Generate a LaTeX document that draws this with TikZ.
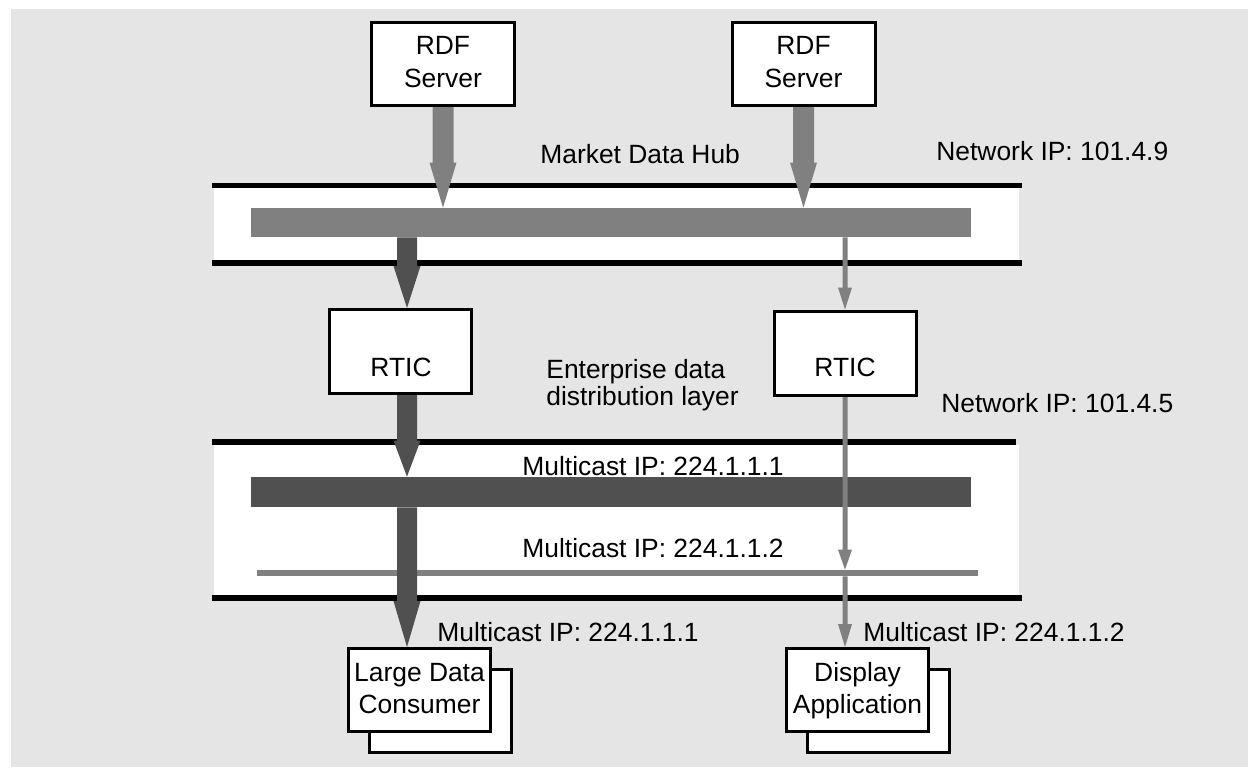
\documentclass[tikz,border=0pt]{standalone}
\usepackage{fontspec}
\setmainfont{Liberation Sans}
\usetikzlibrary{calc}

\definecolor{panelgray}{HTML}{E5E5E5}
\definecolor{flowgray}{HTML}{808080}
\definecolor{flowdark}{HTML}{505050}

\newcommand\lblfont{\fontsize{13.2pt}{15.8pt}\selectfont}

% Vertical block arrow: #1 fill colour, #2 start, #3 tip,
% #4 half shaft width, #5 half head width, #6 head length
\newcommand\vfatarrow[6]{%
  \fill[#1] ($(#2)+(-#4,0)$) -- ($(#3)+(-#4,-#6)$) -- ($(#3)+(-#5,-#6)$)
    -- (#3) -- ($(#3)+(#5,-#6)$) -- ($(#3)+(#4,-#6)$) -- ($(#2)+(#4,0)$) -- cycle;}

\begin{document}
\begin{tikzpicture}[x=0.5pt,y=-0.5pt,
  box/.style={draw=black, line width=1.5pt, fill=white, inner sep=0pt,
    minimum width=71.5pt, minimum height=41.5pt},
  txt/.style={font=\lblfont, inner sep=0pt, anchor=base},
  txtw/.style={txt, anchor=base west},
  busbar/.style={inner sep=0pt, draw=none},
  hubline/.style={draw=black, line width=2.75pt}]

% canvas
\useasboundingbox (0,0) rectangle (1248,767);
\fill[white] (0,0) rectangle (1248,767);
\fill[panelgray] (11,9) rectangle (1248,767);

% market data hub band
\fill[white] (214,188) rectangle (1019,261);
\draw[hubline] (212,185.5) -- (1022,185.5);
\draw[hubline] (212,263) -- (1022,263);
\node[busbar, fill=flowgray, minimum width=360pt, minimum height=14.5pt] (hubbar) at (611,222.5) {};

% enterprise distribution band
\fill[white] (214,445) rectangle (1019,595);
\draw[hubline] (212,442) -- (1016,442);
\draw[hubline] (212,598) -- (1022,598);
\node[busbar, fill=flowdark, minimum width=360pt, minimum height=15pt] (dkbar) at (611,492) {};
\node[busbar, fill=flowgray, minimum width=360.5pt, minimum height=3pt] (ltbar) at (617.5,573) {};

% boxes (placed first so arrows can refer to them)
\path node[box] (rdf1) at (443,64) {}
      node[box] (rdf2) at (803.5,64) {}
      node[box, minimum width=71pt, minimum height=42pt] (rtic1) at (400.5,351.5) {}
      node[box, minimum width=71pt, minimum height=42pt] (rtic2) at (845,353) {};

\coordinate (dkx) at (407,0);
\coordinate (thx) at (845,0);
\coordinate (ldcpos) at (419.5,690);
\coordinate (disppos) at (857.5,689.5);

% arrow end points
\coordinate (a1s) at (rdf1.south);
\coordinate (a1e) at (rdf1.south |- hubbar.north);
\coordinate (a2s) at (rdf2.south);
\coordinate (a2e) at (rdf2.south |- hubbar.north);
\coordinate (a3s) at (dkx |- hubbar.south);
\coordinate (a3e) at (dkx |- rtic1.north);
\coordinate (a4s) at (thx |- hubbar.south);
\coordinate (a4e) at (rtic2.north);
\coordinate (a5s) at (dkx |- rtic1.south);
\coordinate (a5e) at (dkx |- dkbar.north);
\coordinate (a6s) at (dkx |- dkbar.south);
\coordinate (a6e) at (407,647);
\coordinate (a7s) at (rtic2.south);
\coordinate (a7e) at (thx |- ltbar.north);
\coordinate (a8s) at (thx |- ltbar.south);
\coordinate (a8e) at (845,647);

% flows
\vfatarrow{flowgray}{a1s}{a1e}{10.5}{13.5}{45}
\vfatarrow{flowgray}{a2s}{a2e}{10.5}{13.5}{45}
\vfatarrow{flowdark}{a3s}{a3e}{10}{13.5}{42}
\vfatarrow{flowgray}{a4s}{a4e}{2.5}{7}{22}
\vfatarrow{flowdark}{a5s}{a5e}{10}{13.5}{36}
\vfatarrow{flowdark}{a6s}{a6e}{10}{13.5}{46}
\vfatarrow{flowgray}{a7s}{a7e}{2.5}{7}{20}
\vfatarrow{flowgray}{a8s}{a8e}{2.5}{7}{23}

% redraw boxes over arrow ends
\node[box] at (rdf1) {};
\node[box] at (rdf2) {};
\node[box, minimum width=71pt, minimum height=42pt] at (rtic1) {};
\node[box, minimum width=71pt, minimum height=42pt] at (rtic2) {};

% consumer stacks
\node[box, minimum width=71pt] (ldcback) at ($(ldcpos)+(21,21)$) {};
\node[box, minimum width=71pt] (ldc) at (ldcpos) {};
\node[box, minimum width=71pt] (dispback) at ($(disppos)+(21,21)$) {};
\node[box, minimum width=71pt] (disp) at (disppos) {};

% box texts
\node[txt] (rdf1a) at (443,54) {RDF};
\node[txt] (rdf1b) at (443,87) {Server};
\node[txt] (rdf2a) at (803.5,54) {RDF};
\node[txt] (rdf2b) at (803.5,87) {Server};
\node[txt] (rtic1t) at (401,376) {RTIC};
\node[txt] (rtic2t) at (845,376) {RTIC};
\node[txt] (ldca) at (419.5,681) {Large Data};
\node[txt] (ldcb) at (419.5,713) {Consumer};
\node[txt] (dispa) at (857.5,681) {Display};
\node[txt] (dispb) at (857.5,713) {Application};

% free labels
\node[txtw] (hubname) at (540,163) {Market Data Hub};
\node[txtw] (net9) at (936,160) {Network IP: 101.4.9};
\node[txtw] (ent1) at (546,378) {Enterprise data};
\node[txtw] (ent2) at (546,405) {distribution layer};
\node[txtw] (net5) at (941,412) {Network IP: 101.4.5};
\node[txtw] (mc1) at (522,475) {Multicast IP: 224.1.1.1};
\node[txtw] (mc2) at (522,557) {Multicast IP: 224.1.1.2};
\node[txtw] (mc3) at (437,641) {Multicast IP: 224.1.1.1};
\node[txtw] (mc4) at (863,641) {Multicast IP: 224.1.1.2};
\end{tikzpicture}
\end{document}
